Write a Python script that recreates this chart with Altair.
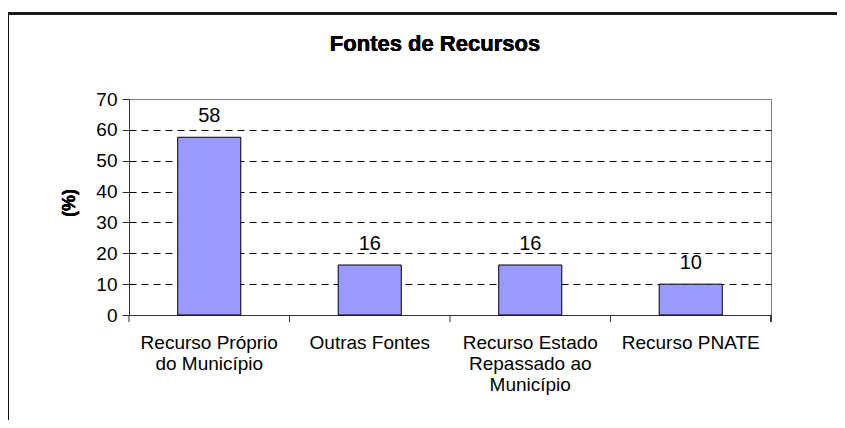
import altair as alt
import pandas as pd

categories = ["Recurso Próprio\ndo Município", "Outras Fontes",
              "Recurso Estado\nRepassado ao\nMunicípio", "Recurso PNATE"]
values = [57.6, 16.2, 16.2, 10.0]
y_ticks = [0, 10, 20, 30, 40, 50, 60, 70]
title_text = "Fontes de Recursos"
y_title = "(%)"

df = pd.DataFrame({"cat": categories, "val": values})

W, H = 642, 216
FONT = "Liberation Sans"

x_axis = alt.Axis(title=None, labelAngle=0, ticks=False, tickSize=0,
                  domain=True, domainColor="#333333", domainWidth=1,
                  labelExpr="split(datum.label, '\\n')",
                  labelFont=FONT, labelFontSize=19, labelColor="black",
                  labelLineHeight=21, labelPadding=18, labelBaseline="top",
                  grid=False, labelLimit=0)
x_scale = alt.Scale(paddingInner=0, paddingOuter=0)

y_axis = alt.Axis(title=None, values=y_ticks, tickCount=8, labelOverlap=False,
                  labelFont=FONT, labelFontSize=19,
                  labelColor="black", tickSize=7, tickColor="#333333",
                  labelPadding=5, domainColor="#333333",
                  grid=True, gridDash=[7, 5], gridWidth=1,
                  gridColor={"condition": {"test": "datum.value === 0 || datum.value === 70",
                                           "value": "transparent"},
                             "value": "black"})
y_scale = alt.Scale(domain=[0, 70], nice=False)

x_enc = alt.X("cat:N", sort=None, scale=x_scale, axis=x_axis)
y_enc = alt.Y("val:Q", scale=y_scale, axis=y_axis)

bars = alt.Chart(df).mark_bar(width=alt.RelativeBandSize(0.393), color="#9999FF",
                              stroke="black", strokeWidth=1).encode(x=x_enc, y=y_enc)

labels = alt.Chart(df).mark_text(dy=-15, baseline="alphabetic", font=FONT, fontSize=20,
                                 color="black").encode(
    x=x_enc, y=y_enc, text=alt.Text("val:Q", format=".0f"))

xticks = alt.Chart(df).mark_rule(color="#333333").encode(
    x=alt.X("cat:N", sort=None, bandPosition=0, scale=x_scale, axis=x_axis),
    y=alt.value(H), y2=alt.value(H + 7))
xtick_end = alt.Chart(df).mark_rule(color="#333333").encode(
    x=alt.value(W), y=alt.value(H), y2=alt.value(H + 7))

title = alt.Chart(df).mark_text(text=title_text, font=FONT, fontSize=22, fontWeight="bold",
                                align="center", baseline="alphabetic", color="black").encode(
    x=alt.value(306), y=alt.value(-48))

ytitle = alt.Chart(df).mark_text(text=y_title, font=FONT, fontSize=18, fontWeight="bold",
                                 align="center", baseline="middle", angle=270,
                                 color="black").encode(
    x=alt.value(-59), y=alt.value(104))

border = alt.Chart(df).mark_rect(fill="transparent", stroke="#111111", strokeWidth=2).encode(
    x=alt.value(-121), y=alt.value(-85.5), x2=alt.value(900), y2=alt.value(600))

chart = alt.layer(border, bars, labels, xticks, xtick_end, title, ytitle).properties(
    width=W, height=H,
    autosize=alt.AutoSizeParams(type="none"),
    padding={"left": 121, "top": 91, "right": 66, "bottom": 105},
    background="white",
).configure_view(stroke="#808080", strokeWidth=1)

chart.save("out.html", embed_options={"renderer": "svg", "actions": False})
